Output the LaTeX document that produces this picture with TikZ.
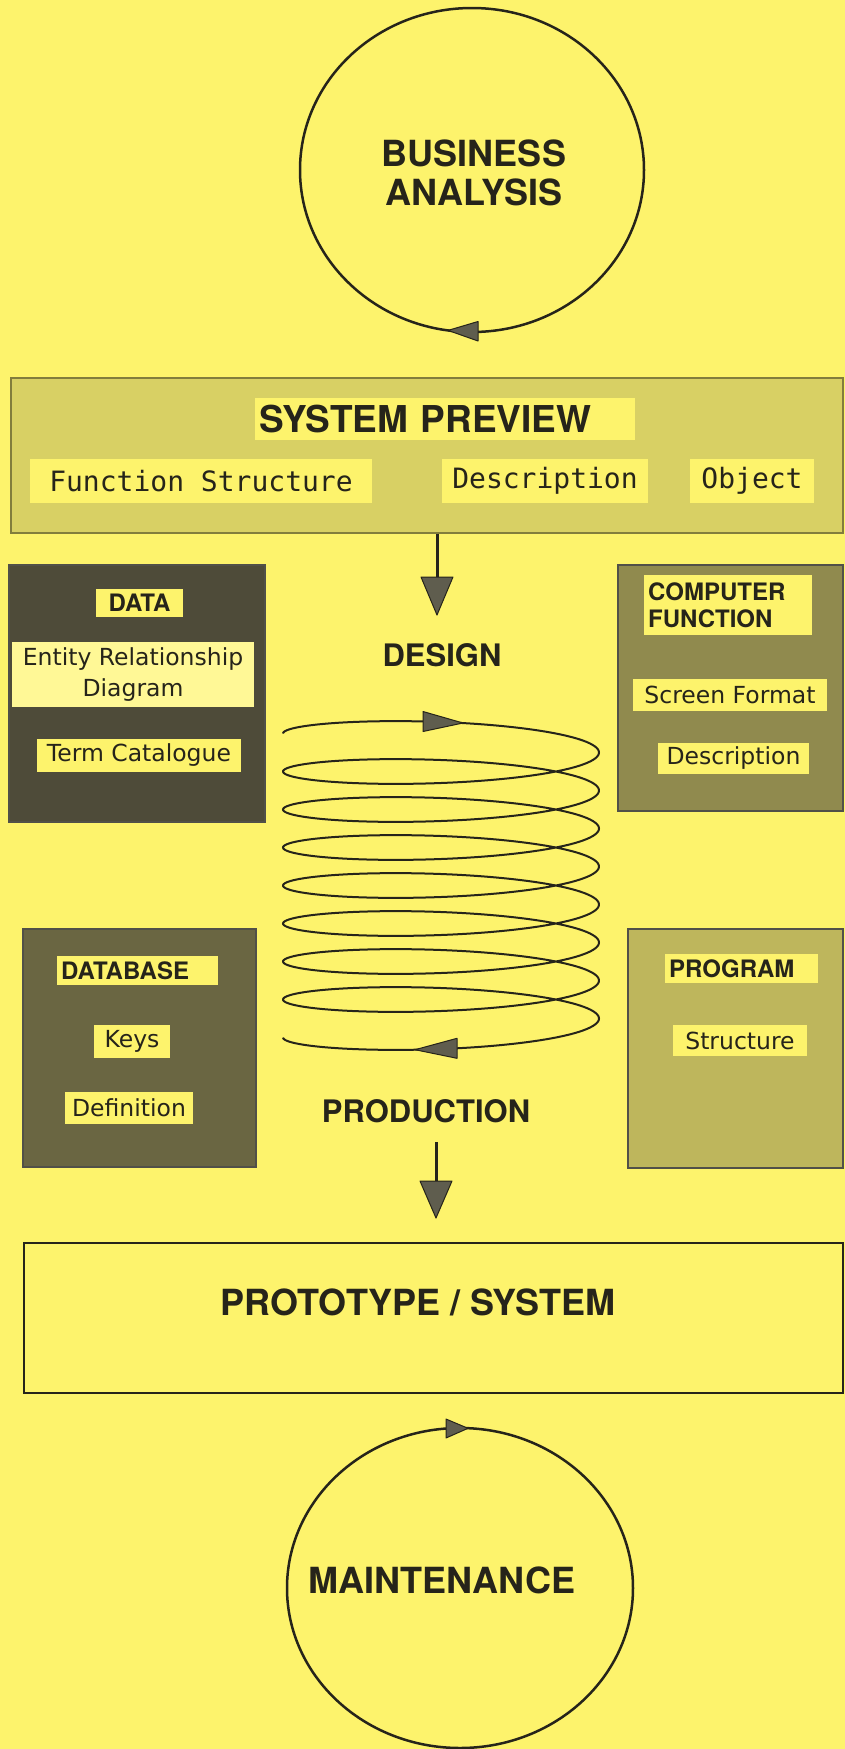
\documentclass[tikz,border=0pt]{standalone}
\usepackage{fontspec}
\usetikzlibrary{shapes.geometric,calc}
\newfontfamily\hv{TeX Gyre Heros}
\newfontfamily\gen{DejaVu Sans}
\newfontfamily\mono{DejaVu Sans Mono}
\definecolor{bg}{RGB}{253,243,108}
\definecolor{bgpale}{RGB}{255,248,150}
\definecolor{ink}{RGB}{38,36,26}
\definecolor{arrowfill}{RGB}{95,93,78}
\definecolor{spgray}{RGB}{216,208,100}
\definecolor{datagray}{RGB}{78,75,57}
\definecolor{compgray}{RGB}{144,138,78}
\definecolor{dbgray}{RGB}{106,102,66}
\definecolor{proggray}{RGB}{190,182,92}
\tikzset{
  big/.style={font=\hv\bfseries\fontsize{36}{39}\selectfont, text=ink, inner sep=0, align=center},
  mid/.style={font=\hv\bfseries\fontsize{31}{34}\selectfont, text=ink, inner sep=0},
  boxtitle/.style={font=\hv\bfseries\fontsize{24}{27}\selectfont, text=ink},
  hl/.style={fill=bg, draw=none, inner sep=4, text=ink},
  gen/.style={font=\gen\fontsize{23.5}{31}\selectfont, text=ink},
  monot/.style={font=\mono\fontsize{28}{30}\selectfont, text=ink},
  ring/.style={draw=ink, line width=2.5, ellipse, inner sep=0},
  panel/.style={draw=ink!80, line width=1.5, rectangle, inner sep=0},
  headfill/.style={fill=arrowfill, draw=ink, line width=1, line join=round},
  stem/.style={draw=ink, line width=3}
}
\begin{document}
\begin{tikzpicture}[x=1pt,y=1pt]
\useasboundingbox (0,0) rectangle (845,-1749);
\fill[bg] (0,0) rectangle (845,-1749);

% Business analysis
\node[ring, minimum width=344, minimum height=324] (bacirc) at (472,-170) {};
\node[big] (ba) at (474,-173) {BUSINESS\\ANALYSIS};
\fill[headfill] (448,-330.4) -- (478,-321.5) -- (478,-341) -- cycle;

% System preview
\node[panel, fill=spgray, draw=spgray!60!black, minimum width=832, minimum height=155] (sp) at (427,-455.5) {};
\node[hl, anchor=west, minimum height=42, text width=372, align=left, font=\hv\bfseries\fontsize{37}{39}\selectfont] (spt) at (255,-419) {SYSTEM PREVIEW};
\node[hl, monot, minimum width=342, minimum height=44] (fs) at (201,-481) {Function Structure};
\node[hl, monot, minimum width=206, minimum height=44] (spd) at (545,-481) {Description};
\node[hl, monot, minimum width=124, minimum height=44] (obj) at (752,-481) {Object};

% arrow to design
\coordinate (a1tip) at (437,-615);
\draw[stem] (sp.south -| a1tip) -- ($(a1tip)+(0,36)$);
\fill[headfill] (a1tip) -- ($(a1tip)+(-16,38)$) -- ($(a1tip)+(16,38)$) -- cycle;
\node[mid] (design) at (442,-655) {DESIGN};

% DATA
\node[panel, fill=datagray, minimum width=256, minimum height=257] (data) at (137,-693.5) {};
\node[hl, boxtitle, minimum width=87, minimum height=28] (datat) at (139.5,-603) {DATA};
\node[hl, gen, fill=bgpale, minimum width=242, minimum height=65, align=center] (erd) at (133,-674.5) {Entity Relationship\\Diagram};
\node[hl, gen, minimum width=204, minimum height=33] (term) at (139,-755.5) {Term Catalogue};

% COMPUTER FUNCTION
\node[panel, fill=compgray, minimum width=225, minimum height=246] (comp) at (730.5,-688) {};
\node[hl, boxtitle, anchor=north west, text width=160, align=left, minimum height=60] (compt) at (644,-575) {COMPUTER\\FUNCTION};
\node[hl, gen, minimum width=194, minimum height=32] (scr) at (730,-695) {Screen Format};
\node[hl, gen, minimum width=151, minimum height=31] (cdesc) at (733.5,-758.5) {Description};

% coil
\draw[ink, line width=2] plot[domain=-0.5*pi:15.5*pi, samples=900, variable=\t, smooth]
  ({441+158*sin(\t r)}, {-743-38*\t/(2*pi)+21*cos(\t r)});
\fill[headfill] (463,-723) -- (423,-711.5) -- (423,-731.5) -- cycle;
\fill[headfill] (415,-1049.7) -- (457,-1038.3) -- (457,-1058.3) -- cycle;

% DATABASE
\node[panel, fill=dbgray, minimum width=233, minimum height=238] (db) at (139.5,-1048) {};
\node[hl, boxtitle, anchor=west, text width=153, align=left, minimum height=29] (dbt) at (57,-970.5) {DATABASE};
\node[hl, gen, minimum width=76, minimum height=33] (keys) at (132,-1041.5) {Keys};
\node[hl, gen, minimum width=128, minimum height=32] (defn) at (129,-1108) {Definition};

% PROGRAM
\node[panel, fill=proggray, minimum width=215, minimum height=239] (prog) at (735.5,-1048.5) {};
\node[hl, boxtitle, anchor=west, text width=145, align=left, minimum height=29] (progt) at (665,-968.5) {PROGRAM};
\node[hl, gen, minimum width=134, minimum height=31] (struct) at (740,-1040.5) {Structure};

% production
\node[mid] (prod) at (426,-1111) {PRODUCTION};
\coordinate (a2start) at (436,-1142);
\coordinate (a2tip) at (436,-1218);
\draw[stem] (a2start) -- ($(a2tip)+(0,34)$);
\fill[headfill] (a2tip) -- ($(a2tip)+(-16,37)$) -- ($(a2tip)+(16,37)$) -- cycle;

% prototype / system
\node[draw=ink, line width=2.5, minimum width=819, minimum height=150, inner sep=0] (proto) at (433.5,-1318) {};
\node[big] (protot) at (418,-1302) {PROTOTYPE / SYSTEM};

% maintenance
\node[ring, minimum width=346, minimum height=320] (mcirc) at (460,-1588) {};
\node[big] (maint) at (442,-1580) {MAINTENANCE};
\fill[headfill] (468,-1428.3) -- (446,-1419) -- (446,-1438) -- cycle;
\end{tikzpicture}
\end{document}
